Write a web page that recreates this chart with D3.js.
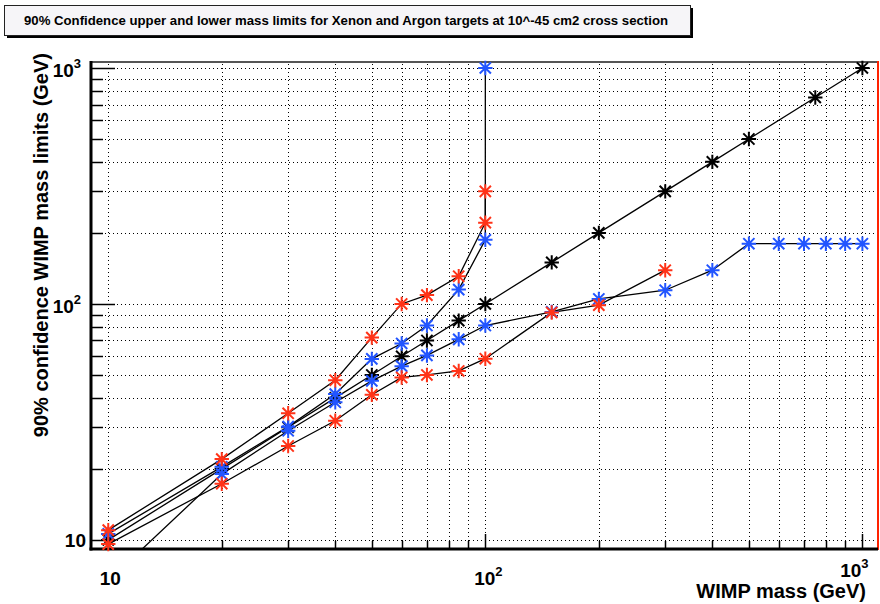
<!DOCTYPE html>
<html>
<head>
<meta charset="utf-8">
<script src="https://cdn.jsdelivr.net/npm/d3@7"></script>
<style>
  html, body { margin: 0; padding: 0; background: #ffffff; }
  svg text { font-family: "Liberation Sans", Arial, Helvetica, sans-serif; font-weight: bold; }
</style>
</head>
<body>
<svg id="chart" width="880" height="604"></svg>
<script>
// ---------------- data ----------------
const titleText = "90% Confidence upper and lower mass limits for Xenon and Argon targets at 10^-45 cm2 cross section";
const xTitle = "WIMP mass (GeV)";
const yTitle = "90% confidence WIMP mass limits (GeV)";

const trueX = [10, 20, 30, 40, 50, 60, 70, 85, 100, 150, 200, 300, 400, 500, 750, 1000];
const trueY = [10, 20, 30, 40, 50, 60, 70, 85, 100, 150, 200, 300, 400, 500, 750, 1000];

const xenonUpperX = [10, 20, 30, 40, 50, 60, 70, 85, 100, 100];
const xenonUpperY = [11, 22, 34.4, 47.5, 72, 100, 109, 131, 221, 300];

const argonUpperX = [10, 20, 30, 40, 50, 60, 70, 85, 100, 100];
const argonUpperY = [10.6, 20.4, 30.2, 41.5, 58.5, 68, 81, 115, 187, 1000];

const argonLowerX = [10, 20, 30, 40, 50, 60, 70, 85, 100, 150, 200, 300, 400, 500, 600, 700, 800, 900, 1000];
const argonLowerY = [6.7, 19, 29, 38.3, 47.2, 54.5, 60.5, 70.8, 81, 92.5, 105, 114.3, 139, 180, 180, 180, 180, 180, 180];

const xenonLowerX = [10, 20, 30, 40, 50, 60, 70, 85, 100, 150, 200, 300];
const xenonLowerY = [9.6, 17.3, 25, 32, 41.2, 48.8, 50, 52, 58.6, 92, 98.8, 139];

const xTickValues = [10, 100, 1000];
const xTickBase = ["10", "10", "10"];
const xTickExp = ["", "2", "3"];
const yTickValues = [10, 100, 1000];
const yTickBase = ["10", "10", "10"];
const yTickExp = ["", "2", "3"];

const series = [
  { name: "true", xs: trueX, ys: trueY, color: "#000000" },
  { name: "argonUpper", xs: argonUpperX, ys: argonUpperY, color: "#2255ff" },
  { name: "argonLower", xs: argonLowerX, ys: argonLowerY, color: "#2255ff" },
  { name: "xenonUpper", xs: xenonUpperX, ys: xenonUpperY, color: "#ff3318" },
  { name: "xenonLower", xs: xenonLowerX, ys: xenonLowerY, color: "#ff3318" }
];

// ---------------- layout ----------------
const L = 91, R = 878, T = 62, B = 549;
const svg = d3.select("#chart");

const x = d3.scaleLog().domain([9, 1100]).range([L, R]);
const y = d3.scaleLog().domain([9.15, 1060]).range([B, T]);
const px = v => Math.round(v) + 0.5;

// title box with shadow
svg.append("rect").attr("x", 7).attr("y", 8).attr("width", 686).attr("height", 30).attr("fill", "#000");
svg.append("rect").attr("x", 4.5).attr("y", 5.5).attr("width", 686).attr("height", 30)
  .attr("fill", "#f6f5f8").attr("stroke", "#222").attr("stroke-width", 1);
svg.append("text").attr("x", 346).attr("y", 25).attr("text-anchor", "middle")
  .attr("font-size", "13.2px").attr("fill", "#000").text(titleText);

// clip
svg.append("clipPath").attr("id", "plotclip").append("rect")
  .attr("x", L).attr("y", T).attr("width", R - L).attr("height", B - T);

// grid values (every integer multiple per decade)
const gridX = [];
const gridY = [];
[10, 100].forEach(d => { for (let k = 1; k <= 9; k++) { gridX.push(d * k); gridY.push(d * k); } });
gridX.push(1000); gridY.push(1000);

const grid = svg.append("g").attr("shape-rendering", "crispEdges");
grid.selectAll("line.gx").data(gridX.filter(v => v > 9 && v < 1100)).enter().append("line")
  .attr("x1", d => px(x(d))).attr("x2", d => px(x(d))).attr("y1", T + 2).attr("y2", B)
  .attr("stroke", "#000").attr("stroke-width", 1).attr("stroke-dasharray", "1,3");
grid.selectAll("line.gy").data(gridY.filter(v => v > 9.15 && v < 1060)).enter().append("line")
  .attr("x1", L + 2).attr("x2", R).attr("y1", d => px(y(d))).attr("y2", d => px(y(d)))
  .attr("stroke", "#000").attr("stroke-width", 1).attr("stroke-dasharray", "1,3");

// axes ticks (inside)
const ticks = svg.append("g");
gridX.filter(v => v > 9 && v < 1100).forEach(v => {
  const major = xTickValues.includes(v);
  ticks.append("line").attr("x1", px(x(v))).attr("x2", px(x(v))).attr("y1", B).attr("y2", B - (major ? 15 : 8))
    .attr("stroke", "#000").attr("stroke-width", 1.5);
});
gridY.filter(v => v > 9.15 && v < 1060).forEach(v => {
  const major = yTickValues.includes(v);
  ticks.append("line").attr("x1", L).attr("x2", L + (major ? 24 : 12)).attr("y1", px(y(v))).attr("y2", px(y(v)))
    .attr("stroke", "#000").attr("stroke-width", 1.5);
});

// frame
svg.append("line").attr("x1", L - 1).attr("x2", R).attr("y1", T).attr("y2", T).attr("stroke", "#555").attr("stroke-width", 2);
svg.append("line").attr("x1", R).attr("x2", R).attr("y1", T - 1).attr("y2", B + 1).attr("stroke", "#ff2200").attr("stroke-width", 2);
svg.append("line").attr("x1", L).attr("x2", L).attr("y1", T - 1).attr("y2", B + 1.5).attr("stroke", "#000").attr("stroke-width", 3);
svg.append("line").attr("x1", L - 1.5).attr("x2", R).attr("y1", B).attr("y2", B).attr("stroke", "#000").attr("stroke-width", 3);

// lines
const line = d3.line().x(d => x(d[0])).y(d => y(d[1]));
const plot = svg.append("g").attr("clip-path", "url(#plotclip)");
series.forEach(s => {
  const pts = s.xs.map((v, i) => [v, s.ys[i]]);
  plot.append("path").datum(pts).attr("d", line)
    .attr("fill", "none").attr("stroke", "#000").attr("stroke-width", 1.3);
});

// markers (asterisk)
const r = 7.2, rd = 5.6;
function starPath(cx, cy) {
  return `M${cx - r},${cy}L${cx + r},${cy}M${cx},${cy - r}L${cx},${cy + r}` +
    `M${cx - rd},${cy - rd}L${cx + rd},${cy + rd}M${cx - rd},${cy + rd}L${cx + rd},${cy - rd}`;
}
series.forEach(s => {
  const pts = s.xs.map((v, i) => [v, s.ys[i]]).filter(p => p[1] >= 9.15 && p[1] <= 1060);
  svg.append("g").selectAll("path").data(pts).enter().append("path")
    .attr("d", d => starPath(x(d[0]), y(d[1])))
    .attr("stroke", s.color).attr("stroke-width", 2).attr("fill", "none");
});

// tick labels
xTickValues.forEach((v, i) => {
  const isLast = i === xTickValues.length - 1;
  const t = svg.append("text").attr("font-size", "19px").attr("fill", "#000")
    .attr("text-anchor", "middle")
    .attr("x", x(v) + (xTickExp[i] ? (isLast ? -8 : 3) : 2)).attr("y", isLast ? 577 : 585);
  t.append("tspan").text(xTickBase[i]);
  if (xTickExp[i]) t.append("tspan").attr("font-size", "13px").attr("dy", -9).text(xTickExp[i]);
});
yTickValues.forEach((v, i) => {
  const t = svg.append("text").attr("font-size", "19px").attr("fill", "#000")
    .attr("text-anchor", "end")
    .attr("x", yTickExp[i] ? 81 : 86).attr("y", y(v) + (yTickExp[i] ? 9 : 7));
  t.append("tspan").text(yTickBase[i]);
  if (yTickExp[i]) t.append("tspan").attr("font-size", "13px").attr("dy", -9).text(yTickExp[i]);
});

// axis titles
svg.append("text").attr("font-size", "20px").attr("fill", "#000")
  .attr("text-anchor", "end").attr("x", 866).attr("y", 598).text(xTitle);
svg.append("text").attr("font-size", "20px").attr("fill", "#000")
  .attr("text-anchor", "end")
  .attr("transform", "translate(48,53) rotate(-90)").text(yTitle);
</script>
</body>
</html>
